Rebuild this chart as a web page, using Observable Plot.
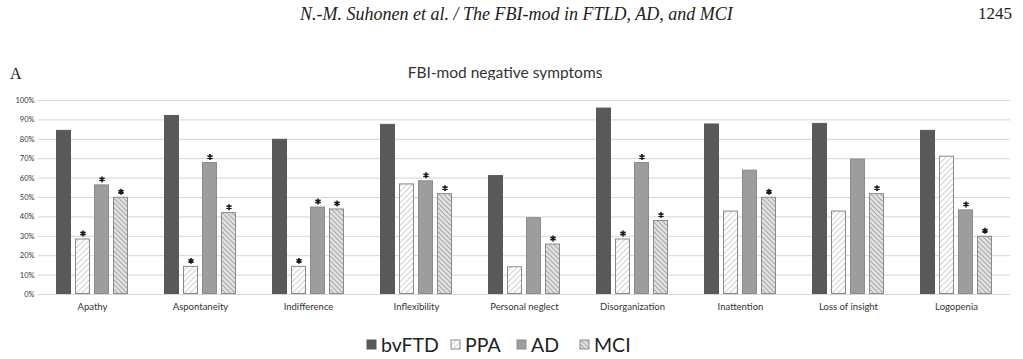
<!DOCTYPE html>
<html>
<head>
<meta charset="utf-8">
<script src="https://cdn.jsdelivr.net/npm/d3@7"></script>
<script src="https://cdn.jsdelivr.net/npm/@observablehq/plot@0.6"></script>
<style>
  html, body { margin: 0; padding: 0; background: #fff; width: 1023px; height: 359px; overflow: hidden; }
  #page { position: relative; width: 1023px; height: 359px; }
  .hdr { position: absolute; font-family: "Liberation Serif", "DejaVu Serif", serif; font-style: italic; font-size: 18px; color: #222; white-space: nowrap; }
  .pg { position: absolute; font-family: "Liberation Serif", serif; font-size: 17px; color: #222; }
  .lettr { position: absolute; font-family: "Liberation Serif", serif; font-size: 16px; color: #222; }
  .title { position: absolute; font-family: Lato, "Open Sans", sans-serif; font-size: 15.5px; color: #333; white-space: nowrap; }
  #chart { position: absolute; left: 0; top: 80px; }
  #legend { position: absolute; left: 0; top: 332px; width: 1023px; }
</style>
</head>
<body>
<div id="page">
  <div class="hdr" style="left:300px; top:4px;">N.-M. Suhonen et al. / The FBI-mod in FTLD, AD, and MCI</div>
  <div class="pg" style="right:11px; top:4px;">1245</div>
  <div class="lettr" style="left:10px; top:65px;">A</div>
  <div class="title" style="left:0; width:1010px; text-align:center; top:63px;">FBI-mod negative symptoms</div>
  <div id="chart"></div>
  <div id="legend"></div>
</div>
<script>
const categories = ["Apathy", "Aspontaneity", "Indifference", "Inflexibility", "Personal neglect", "Disorganization", "Inattention", "Loss of insight", "Logopenia"];
const groups = ["bvFTD", "PPA", "AD", "MCI"];
const bvFTD = [84.6, 92.3, 80.0, 87.7, 61.3, 96.1, 87.9, 88.2, 84.6];
const PPA   = [28.6, 14.5, 14.5, 57.0, 14.3, 28.6, 43.0, 43.0, 71.3];
const AD    = [56.5, 68.0, 45.1, 58.6, 39.6, 68.0, 64.1, 69.8, 43.6];
const MCI   = [50.1, 42.2, 44.1, 52.0, 26.0, 38.1, 50.1, 52.0, 30.0];
const sigBvFTD = [0, 0, 0, 0, 0, 0, 0, 0, 0];
const sigPPA   = [1, 1, 1, 0, 0, 1, 0, 0, 0];
const sigAD    = [1, 1, 1, 1, 0, 1, 0, 0, 1];
const sigMCI   = [1, 1, 1, 1, 1, 1, 1, 1, 1];
const yTicks = [0, 10, 20, 30, 40, 50, 60, 70, 80, 90, 100];

const series = {bvFTD, PPA, AD, MCI};
const sigs = {bvFTD: sigBvFTD, PPA: sigPPA, AD: sigAD, MCI: sigMCI};
const rows = [];
categories.forEach((c, i) => groups.forEach(g => rows.push({category: c, group: g, value: series[g][i], sig: sigs[g][i]})));

const fills = ["#595959", "url(#pat-ppa)", "#9d9d9d", "url(#pat-mci)"];
const strokes = ["#595959", "#8a8a8a", "#8a8a8a", "#8a8a8a"];

const patternDefs = `
  <pattern id="pat-ppa" patternUnits="userSpaceOnUse" width="4" height="4" patternTransform="rotate(45)">
    <rect width="4" height="4" fill="#ffffff"/>
    <line x1="0" y1="0" x2="0" y2="4" stroke="#c4c4c4" stroke-width="1.6"/>
  </pattern>
  <pattern id="pat-mci" patternUnits="userSpaceOnUse" width="3.4" height="3.4" patternTransform="rotate(-45)">
    <rect width="3.4" height="3.4" fill="#e0e0e0"/>
    <line x1="0" y1="0" x2="0" y2="3.4" stroke="#999999" stroke-width="1.5"/>
  </pattern>`;

const chart = Plot.plot({
  width: 1023,
  height: 240,
  marginLeft: 38,
  marginRight: 13,
  marginTop: 20,
  marginBottom: 26,
  style: {fontFamily: "Lato, 'Open Sans', sans-serif", background: "#fff"},
  fx: {domain: categories, padding: 0, label: null, axis: "bottom", tickSize: 0, tickPadding: 9},
  x: {domain: groups, paddingInner: 0.2, paddingOuter: 0.87, axis: null},
  y: {domain: [0, 100], ticks: yTicks, tickFormat: d => d + "%", label: null, tickSize: 0, tickPadding: 4},
  color: {domain: groups, range: fills},
  marks: [
    Plot.gridY(yTicks, {stroke: "#d6d6d6", strokeOpacity: 1, strokeWidth: 1}),
    Plot.barY(rows, {fx: "category", x: "group", y: "value", fill: "group",
      stroke: d => strokes[groups.indexOf(d.group)], strokeWidth: 1, inset: 0.5}),
    Plot.dot(rows.filter(d => d.sig), {fx: "category", x: "group", y: "value", symbol: "asterisk",
      r: 2.8, dy: -5.5, stroke: "#1a1a1a", strokeWidth: 1.6})
  ]
});

const defs = document.createElementNS("http://www.w3.org/2000/svg", "defs");
defs.innerHTML = patternDefs;
chart.insertBefore(defs, chart.firstChild);
document.getElementById("chart").appendChild(chart);

chart.querySelectorAll("[aria-label='y-axis tick label']").forEach(el => {
  el.setAttribute("font-size", "7.5"); el.style.fill = "#333";
});
chart.querySelectorAll("[aria-label='fx-axis tick label']").forEach(el => {
  el.setAttribute("font-size", "9.5"); el.style.fill = "#333";
});

// legend built from groups
const lg = d3.select("#legend").append("svg").attr("width", 1023).attr("height", 27);
lg.append("defs").html(patternDefs.replace(/pat-/g, "lg-"));
const legFills = ["#595959", "url(#lg-ppa)", "#9d9d9d", "url(#lg-mci)"];
const legX = [367, 451, 517, 580];
groups.forEach((g, i) => {
  lg.append("rect").attr("x", legX[i]).attr("y", 8).attr("width", 9).attr("height", 9)
    .attr("fill", legFills[i]).attr("stroke", strokes[i]).attr("stroke-width", 1);
  lg.append("text").attr("x", legX[i] + 14).attr("y", 20).text(g)
    .attr("font-family", "Lato, 'Open Sans', sans-serif").attr("font-size", 19.5).attr("fill", "#222");
});
</script>
</body>
</html>
